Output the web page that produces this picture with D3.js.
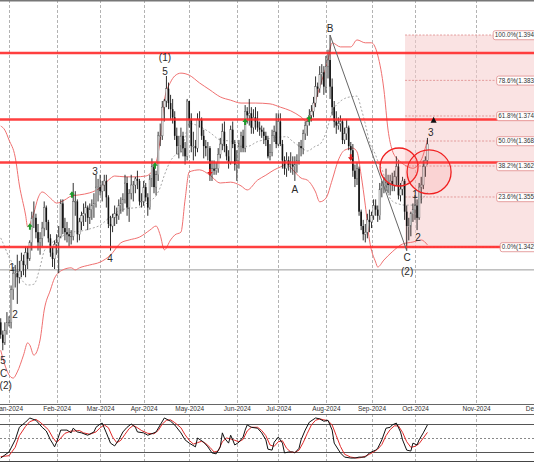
<!DOCTYPE html>
<html><head><meta charset="utf-8">
<script src="https://cdn.jsdelivr.net/npm/d3@7"></script>
<style>body{margin:0;background:#fff}svg{display:block;font-family:"Liberation Sans",Arial,sans-serif}</style>
</head><body>
<svg id="c" width="534" height="462"></svg>
<script>
// ---------- DATA ----------
const firstBar = -4;          // bar index of first candle (Dec 26 2023); 0 = Jan 1 2024
const firstOpen = 1.3245;
const closes = [
 1.3215,1.3195,1.3225,1.3245,
 1.3245,1.3325,1.3365,1.3365,1.3355,1.3370,1.3395,1.3385,1.3415,1.3400,1.3440,1.3500,1.3500,1.3465,1.3440,1.3450,1.3475,1.3525,1.3490,1.3450,1.3415,1.3400,1.3435,
 1.3440,1.3455,1.3535,1.3475,1.3465,1.3460,1.3455,1.3455,1.3540,1.3540,1.3460,1.3490,1.3505,1.3510,1.3525,1.3500,1.3520,1.3530,1.3535,1.3575,1.3575,
 1.3565,1.3580,1.3590,1.3550,1.3485,1.3480,1.3500,1.3510,1.3505,1.3530,1.3535,1.3545,1.3585,1.3525,1.3560,1.3580,1.3580,1.3595,1.3590,1.3540,1.3540,
 1.3575,1.3550,1.3525,1.3595,1.3625,1.3575,1.3605,1.3700,1.3700,1.3770,1.3785,1.3815,1.3780,1.3765,1.3745,1.3700,1.3675,1.3675,1.3700,1.3670,1.3650,1.3785,
 1.3740,1.3675,1.3675,1.3670,1.3740,1.3740,1.3700,1.3675,1.3670,1.3670,1.3605,1.3620,1.3615,1.3620,1.3655,1.3680,1.3710,1.3675,1.3650,1.3635,1.3715,1.3680,1.3630,
 1.3640,1.3675,1.3700,1.3670,1.3760,1.3750,1.3755,1.3720,1.3745,1.3735,1.3720,1.3715,1.3710,1.3700,1.3690,1.3650,1.3660,1.3700,1.3710,1.3680,
 1.3735,1.3680,1.3640,1.3620,1.3640,1.3630,1.3630,1.3625,1.3630,1.3640,1.3675,1.3670,1.3705,1.3725,1.3735,1.3750,1.3760,1.3780,1.3820,1.3815,1.3850,1.3855,1.3820,
 1.3870,1.3885,1.3820,1.3770,1.3735,1.3725,1.3730,1.3735,1.3690,1.3705,1.3720,1.3675,1.3665,1.3615,1.3595,1.3620,1.3515,1.3480,1.3460,1.3465,1.3495,1.3490,
 1.3505,1.3530,1.3520,1.3505,1.3570,1.3580,1.3580,1.3585,1.3580,1.3590,1.3580,1.3600,1.3625,1.3555,1.3570,1.3590,1.3515,1.3480,1.3480,1.3510,1.3520,
 1.3530,1.3500,1.3575,1.3580,1.3625,1.3640,1.3680
];
const highs = [
 1.3255,1.3225,1.3245,1.3270,
 1.3260,1.3335,1.3380,1.3385,1.3410,1.3395,1.3415,1.3410,1.3430,1.3430,1.3445,1.3515,1.3540,1.3510,1.3485,1.3465,1.3490,1.3540,1.3530,1.3495,1.3460,1.3430,1.3445,
 1.3460,1.3480,1.3545,1.3545,1.3500,1.3490,1.3475,1.3470,1.3585,1.3565,1.3545,1.3500,1.3515,1.3535,1.3540,1.3530,1.3535,1.3545,1.3560,1.3605,1.3595,
 1.3605,1.3590,1.3605,1.3605,1.3555,1.3505,1.3510,1.3530,1.3525,1.3545,1.3550,1.3560,1.3605,1.3600,1.3570,1.3605,1.3590,1.3600,1.3615,1.3595,1.3560,
 1.3590,1.3585,1.3560,1.3605,1.3645,1.3630,1.3615,1.3710,1.3730,1.3785,1.3790,1.3846,1.3830,1.3800,1.3790,1.3760,1.3720,1.3700,1.3720,1.3710,1.3685,1.3790,
 1.3785,1.3755,1.3710,1.3690,1.3755,1.3760,1.3745,1.3715,1.3690,1.3685,1.3675,1.3640,1.3640,1.3635,1.3670,1.3695,1.3730,1.3735,1.3680,1.3665,1.3725,1.3735,1.3690,
 1.3665,1.3690,1.3710,1.3715,1.3775,1.3770,1.3790,1.3770,1.3765,1.3770,1.3760,1.3735,1.3725,1.3720,1.3710,1.3700,1.3680,1.3715,1.3725,1.3755,
 1.3755,1.3755,1.3690,1.3650,1.3660,1.3650,1.3660,1.3650,1.3650,1.3655,1.3685,1.3690,1.3715,1.3735,1.3745,1.3765,1.3775,1.3795,1.3845,1.3830,1.3870,1.3875,1.3870,
 1.3895,1.3910,1.3946,1.3840,1.3785,1.3760,1.3745,1.3750,1.3740,1.3720,1.3740,1.3725,1.3685,1.3680,1.3630,1.3635,1.3625,1.3520,1.3495,1.3485,1.3510,1.3520,
 1.3515,1.3545,1.3545,1.3530,1.3585,1.3590,1.3600,1.3620,1.3605,1.3605,1.3610,1.3615,1.3650,1.3640,1.3585,1.3600,1.3595,1.3530,1.3500,1.3515,1.3535,
 1.3555,1.3545,1.3585,1.3600,1.3640,1.3650,1.3695
];
const lows = [
 1.3205,1.3177,1.3190,1.3215,
 1.3235,1.3230,1.3300,1.3330,1.3290,1.3340,1.3355,1.3360,1.3355,1.3375,1.3395,1.3420,1.3475,1.3450,1.3420,1.3410,1.3430,1.3455,1.3470,1.3440,1.3405,1.3380,1.3375,
 1.3410,1.3365,1.3450,1.3460,1.3445,1.3440,1.3430,1.3435,1.3445,1.3505,1.3440,1.3445,1.3470,1.3480,1.3490,1.3470,1.3485,1.3495,1.3500,1.3525,1.3540,
 1.3555,1.3540,1.3565,1.3525,1.3475,1.3420,1.3465,1.3480,1.3485,1.3495,1.3510,1.3515,1.3535,1.3505,1.3490,1.3545,1.3540,1.3560,1.3570,1.3530,1.3525,
 1.3530,1.3540,1.3505,1.3520,1.3575,1.3560,1.3555,1.3590,1.3675,1.3690,1.3735,1.3770,1.3765,1.3740,1.3730,1.3690,1.3655,1.3645,1.3660,1.3650,1.3630,1.3640,
 1.3720,1.3660,1.3640,1.3650,1.3660,1.3720,1.3690,1.3645,1.3650,1.3640,1.3590,1.3590,1.3605,1.3605,1.3610,1.3645,1.3665,1.3660,1.3640,1.3620,1.3630,1.3670,1.3615,
 1.3590,1.3620,1.3660,1.3660,1.3660,1.3730,1.3725,1.3705,1.3705,1.3715,1.3710,1.3700,1.3695,1.3680,1.3675,1.3645,1.3640,1.3650,1.3685,1.3670,
 1.3675,1.3675,1.3620,1.3605,1.3600,1.3615,1.3610,1.3605,1.3590,1.3610,1.3630,1.3650,1.3655,1.3690,1.3700,1.3725,1.3735,1.3745,1.3770,1.3795,1.3805,1.3825,1.3800,
 1.3805,1.3840,1.3790,1.3750,1.3720,1.3705,1.3715,1.3710,1.3680,1.3680,1.3690,1.3665,1.3640,1.3600,1.3575,1.3580,1.3505,1.3470,1.3445,1.3440,1.3450,1.3465,
 1.3475,1.3495,1.3505,1.3490,1.3495,1.3550,1.3560,1.3565,1.3560,1.3555,1.3565,1.3565,1.3580,1.3545,1.3540,1.3555,1.3495,1.3420,1.3445,1.3455,1.3490,
 1.3495,1.3470,1.3495,1.3535,1.3570,1.3600,1.3630
];
// Bollinger bands: [bar index, price]
const bbUpper = [[-4,1.3724],[-2,1.3714],[0,1.3690],[3,1.3648],[5,1.3580],[8,1.3507],[9,1.3478],[12,1.3512],[14,1.3548],[16,1.3563],[20,1.3548],[23,1.3536],[27,1.3544],[30,1.3553],[34,1.3556],[39,1.3561],[44,1.3573],[48,1.3592],[51,1.3602],[56,1.3600],[61,1.3600],[66,1.3602],[70,1.3621],[73,1.3690],[75,1.3787],[78,1.3831],[80,1.3846],[83,1.3853],[87,1.3848],[92,1.3829],[97,1.3812],[102,1.3795],[107,1.3787],[112,1.3780],[119,1.3780],[126,1.3778],[131,1.3770],[136,1.3761],[141,1.3746],[144,1.3734],[147,1.3770],[150,1.3819],[154,1.3885],[156,1.3927],[160,1.3917],[165,1.3917],[168,1.3934],[172,1.3927],[175,1.3927],[178,1.3897],[181,1.3812],[183,1.3714],[185,1.3665],[188,1.3641],[191,1.3629],[195,1.3621],[199,1.3641],[202,1.3690]];
const bbMiddle = [[-4,1.3451],[-2,1.3428],[0,1.3404],[2,1.3387],[5,1.3358],[9,1.3336],[12,1.3338],[15,1.3380],[17,1.3419],[20,1.3436],[23,1.3448],[27,1.3458],[30,1.3465],[34,1.3467],[39,1.3473],[44,1.3482],[49,1.3503],[54,1.3519],[58,1.3523],[63,1.3526],[68,1.3541],[71,1.3554],[73,1.3574],[75,1.3604],[78,1.3639],[80,1.3652],[83,1.3659],[85,1.3697],[87,1.3730],[92,1.3723],[97,1.3708],[102,1.3690],[107,1.3687],[112,1.3679],[115,1.3674],[120,1.3686],[124,1.3691],[128,1.3696],[131,1.3697],[134,1.3698],[137,1.3686],[141,1.3672],[144,1.3663],[148,1.3675],[150,1.3679],[153,1.3707],[156,1.3759],[159,1.3780],[162,1.3791],[166,1.3796],[168,1.3797],[170,1.3767],[172,1.3729],[174,1.3686],[177,1.3653],[178,1.3639],[181,1.3604],[183,1.3559],[185,1.3541],[188,1.3534],[191,1.3531],[195,1.3531],[199,1.3544],[202,1.3562]];
const bbLower = [[-4,1.3177],[-2,1.3141],[0,1.3117],[2,1.3109],[4,1.3124],[7,1.3165],[9,1.3195],[10,1.3190],[12,1.3165],[15,1.3202],[17,1.3275],[20,1.3324],[22,1.3353],[26,1.3373],[30,1.3378],[32,1.3373],[34,1.3378],[39,1.3385],[44,1.3392],[49,1.3409],[54,1.3439],[58,1.3446],[63,1.3453],[68,1.3470],[71,1.3480],[73,1.3458],[75,1.3422],[78,1.3446],[80,1.3458],[83,1.3465],[85,1.3544],[87,1.3612],[92,1.3617],[97,1.3604],[102,1.3585],[107,1.3587],[112,1.3578],[115,1.3568],[120,1.3592],[124,1.3604],[128,1.3617],[131,1.3624],[134,1.3631],[137,1.3617],[141,1.3597],[144,1.3592],[148,1.3563],[150,1.3539],[153,1.3548],[156,1.3592],[159,1.3641],[162,1.3665],[166,1.3670],[168,1.3661],[170,1.3604],[172,1.3531],[174,1.3446],[177,1.3392],[178,1.3380],[181,1.3397],[185,1.3417],[190,1.3436],[195,1.3441],[199,1.3446],[202,1.3434]];
// Stochastic oscillator: [bar index, value]
const stochK = [[-4,7],[0,20],[3,46],[5,73],[8,84],[10,93],[13,88],[15,78],[16,73],[18,65],[20,46],[21,39],[22,31],[23,41],[25,67],[28,67],[30,61],[31,71],[33,63],[35,61],[38,56],[41,63],[42,73],[44,80],[45,82],[47,61],[49,39],[51,33],[53,46],[55,63],[57,73],[59,80],[61,73],[62,63],[65,61],[67,56],[70,61],[71,63],[73,78],[75,93],[78,86],[80,78],[83,61],[85,46],[87,39],[90,31],[91,50],[94,41],[96,31],[98,18],[100,16],[102,31],[103,61],[104,50],[106,39],[107,56],[108,46],[109,35],[111,41],[113,52],[114,67],[115,78],[117,73],[120,71],[122,61],[124,46],[125,26],[127,24],[128,41],[130,52],[132,39],[133,18],[135,20],[137,20],[138,18],[140,28],[141,46],[143,67],[145,84],[148,93],[150,91],[152,86],[154,88],[156,67],[157,39],[160,18],[162,9],[165,7],[167,7],[169,9],[172,9],[174,18],[177,24],[178,28],[180,46],[182,71],[184,73],[185,78],[187,82],[189,63],[190,46],[192,24],[194,22],[195,39],[197,35],[198,46],[200,61],[202,78]];
const stochD = [[-4,10],[0,12],[3,30],[5,55],[8,75],[10,85],[13,90],[15,84],[17,76],[19,68],[21,52],[23,40],[25,50],[27,60],[30,65],[32,65],[34,66],[36,61],[39,58],[42,63],[44,72],[46,78],[48,72],[50,52],[52,40],[54,45],[56,58],[58,70],[60,77],[62,72],[64,66],[67,60],[70,59],[72,66],[74,80],[76,88],[78,89],[80,83],[83,72],[85,57],[87,45],[89,37],[91,40],[93,43],[95,38],[97,30],[99,20],[101,22],[103,42],[105,50],[107,48],[109,45],[111,42],[113,47],[115,65],[117,73],[120,73],[122,66],[124,55],[126,35],[128,32],[130,42],[132,44],[134,28],[136,20],[138,19],[140,24],[142,40],[144,60],[146,78],[148,88],[150,91],[152,89],[154,87],[156,78],[158,55],[160,32],[162,15],[165,9],[168,7],[170,8],[172,11],[174,15],[176,20],[178,26],[180,36],[182,55],[184,68],[186,76],[188,76],[190,62],[192,42],[194,30],[196,32],[198,38],[200,50],[202,62]];
const stochLevels = [80, 50, 20];
// Time axis
const monthLabels = ["Jan-2024","Feb-2024","Mar-2024","Apr-2024","May-2024","Jun-2024","Jul-2024","Aug-2024","Sep-2024","Oct-2024","Nov-2024","Dec-2024"];
const monthBars = [0,23,44,65,87,110,130,153,175,196,225.5,256];
// Horizontal support / resistance lines
const redLevels = [1.3902, 1.3740, 1.3635, 1.3429];
const grayLevel = 1.3373;
// Fibonacci retracement
const fibLow = 1.34288, fibHigh = 1.39460, fibStartBar = 191.2;
const fibRatios = [1.0, 0.786, 0.618, 0.5, 0.382, 0.236, 0.0];
// Wave labels: [bar, price, text]
const waveLabels = [[75.3,1.3890,"(1)"],[75.3,1.3858,"5"],[155,1.3961,"B"],[138,1.3568,"A"],[41.5,1.3614,"3"],[48.8,1.3400,"4"],[1.5,1.3378,"1"],[2.9,1.3265,"2"],[-2.9,1.3153,"5"],[-2.6,1.3121,"C"],[-1.6,1.3092,"(2)"],[192.2,1.3402,"C"],[192.2,1.3370,"(2)"],[196,1.3556,"1"],[197.5,1.3451,"2"],[203.6,1.3707,"3"]];
const upSignals = [[10.1,1.3478],[30.4,1.3556],[70.5,1.3627],[114,1.3734],[144.9,1.3741]];
const downSignals = [[97,1.3612],[165,1.3648]];
const waveLine = [[155,1.3946],[192,1.3420]];   // B -> C
const circles = [[188.3,1.3624,19],[202.8,1.3612,22]];
const targetArrow = [205,1.3738];

// ---------- SCALES ----------
const W = 534, mainBottom = 404, stTop = 414, stBottom = 461;
const x = d3.scaleLinear().domain([0,196]).range([9,415]);
const y = d3.scaleLinear().domain([1.30458,1.40314]).range([mainBottom,0]);
const ys = d3.scaleLinear().domain([0,100]).range([461.3,414.7]);
const svg = d3.select("#c");

svg.append("defs").append("clipPath").attr("id","mainClip").append("rect").attr("x",0).attr("y",0).attr("width",W).attr("height",mainBottom);
svg.select("defs").append("clipPath").attr("id","stClip").append("rect").attr("x",0).attr("y",stTop).attr("width",W).attr("height",stBottom-stTop);

// grid
const grid = svg.append("g");
monthBars.forEach(b=>{
  const gx = Math.round(x(b))+0.5;
  grid.append("line").attr("x1",gx).attr("x2",gx).attr("y1",0).attr("y2",mainBottom).attr("stroke","#a0a0a0").attr("stroke-dasharray","3,2").attr("stroke-width",0.8);
  grid.append("line").attr("x1",gx).attr("x2",gx).attr("y1",stTop).attr("y2",stBottom).attr("stroke","#a0a0a0").attr("stroke-dasharray","3,2").attr("stroke-width",0.8);
});

const main = svg.append("g").attr("clip-path","url(#mainClip)");

// fib box
const fy = r => y(fibLow + (fibHigh-fibLow)*r);
main.append("rect").attr("x",x(fibStartBar)).attr("y",fy(1)).attr("width",W-x(fibStartBar)).attr("height",fy(0)-fy(1))
  .attr("fill","#f5cccc").attr("fill-opacity",0.55);
fibRatios.forEach(r=>{
  main.append("line").attr("x1",x(fibStartBar)).attr("x2",W).attr("y1",fy(r)).attr("y2",fy(r))
   .attr("stroke","#dd8a8a").attr("stroke-dasharray","2,1.5").attr("stroke-width",0.8);
});

// gray level
main.append("line").attr("x1",0).attr("x2",W).attr("y1",y(grayLevel)).attr("y2",y(grayLevel)).attr("stroke","#9a9a9a").attr("stroke-width",1);

// bollinger
const bl = d3.line().x(d=>x(d[0])).y(d=>y(d[1])).curve(d3.curveMonotoneX);
main.append("path").attr("d",bl(bbMiddle)).attr("fill","none").attr("stroke","#a8a8a8").attr("stroke-dasharray","2,2").attr("stroke-width",1);
main.append("path").attr("d",bl(bbUpper)).attr("fill","none").attr("stroke","#f07070").attr("stroke-width",1);
main.append("path").attr("d",bl(bbLower)).attr("fill","none").attr("stroke","#f07070").attr("stroke-width",1);

// candles
const bars = closes.map((c,k)=>({i:firstBar+k, o:k===0?firstOpen:closes[k-1], h:highs[k], l:lows[k], c}));
const cg = main.append("g");
cg.selectAll("line").data(bars).join("line")
  .attr("x1",d=>x(d.i)).attr("x2",d=>x(d.i)).attr("y1",d=>y(d.h)).attr("y2",d=>y(d.l))
  .attr("stroke","#1a1a1a").attr("stroke-width",0.9);
cg.selectAll("rect").data(bars).join("rect")
  .attr("x",d=>x(d.i)-0.8).attr("width",1.6)
  .attr("y",d=>y(Math.max(d.o,d.c))).attr("height",d=>Math.max(0.6,Math.abs(y(d.o)-y(d.c))))
  .attr("fill",d=>d.c>=d.o?"#e8e8e8":"#111").attr("stroke",d=>d.c>=d.o?"#555":"none").attr("stroke-width",0.4);

// red levels
redLevels.forEach(p=>{
  main.append("line").attr("x1",0).attr("x2",W).attr("y1",y(p)).attr("y2",y(p)).attr("stroke","#ff2a2a").attr("stroke-width",2.4).attr("stroke-opacity",0.9);
});

// circles
circles.forEach(c=>{
  main.append("circle").attr("cx",x(c[0])).attr("cy",y(c[1])).attr("r",c[2])
   .attr("fill","#ff6060").attr("fill-opacity",0.12).attr("stroke","#f02020").attr("stroke-width",1.3);
});

// B-C line
main.append("line").attr("x1",x(waveLine[0][0])).attr("y1",y(waveLine[0][1])).attr("x2",x(waveLine[1][0])).attr("y2",y(waveLine[1][1]))
  .attr("stroke","#666").attr("stroke-width",1);

// signals
upSignals.forEach(s=>{
  const sx=x(s[0]), sy=y(s[1]);
  main.append("path").attr("d",`M${sx},${sy-3.5}L${sx-2.8},${sy}L${sx-1},${sy}L${sx-1},${sy+3}L${sx+1},${sy+3}L${sx+1},${sy}L${sx+2.8},${sy}Z`).attr("fill","#1e9a2a");
});
downSignals.forEach(s=>{
  const sx=x(s[0]), sy=y(s[1]);
  main.append("path").attr("d",`M${sx},${sy+3.5}L${sx-2.8},${sy}L${sx-1},${sy}L${sx-1},${sy-3}L${sx+1},${sy-3}L${sx+1},${sy}L${sx+2.8},${sy}Z`).attr("fill","#dd1c1c");
});

// target arrow near "3"
{
  const ax=x(targetArrow[0]), ay=y(targetArrow[1]);
  main.append("path").attr("d",`M${ax},${ay-3.5}L${ax-3},${ay+2.5}L${ax+3},${ay+2.5}Z`).attr("fill","#111");
}

// wave labels
main.selectAll("text.w").data(waveLabels).join("text").attr("class","w")
  .attr("x",d=>x(d[0])).attr("y",d=>y(d[1])).attr("dy","0.35em").attr("text-anchor","middle")
  .attr("font-size",10).attr("fill","#2a2a2a").text(d=>d[2]);

// fib labels
fibRatios.forEach(r=>{
  const lv = fibLow + (fibHigh-fibLow)*r;
  const g = main.append("g");
  const t = g.append("text").attr("x",543).attr("y",fy(r)).attr("dy","0.35em").attr("text-anchor","end")
     .attr("font-size",6.3).attr("fill","#333").text((r*100).toFixed(1)+"%("+lv.toFixed(5)+")");
  const bb = t.node().getBBox();
  g.insert("rect","text").attr("x",bb.x-1.5).attr("y",bb.y-0.5).attr("width",bb.width+3).attr("height",bb.height+1)
    .attr("rx",2).attr("fill","#fff").attr("stroke","#e08a8a").attr("stroke-width",0.8);
});

// borders
svg.append("line").attr("x1",0).attr("x2",W).attr("y1",0.75).attr("y2",0.75).attr("stroke","#777").attr("stroke-width",1.5);
svg.append("line").attr("x1",0).attr("x2",W).attr("y1",mainBottom+0.5).attr("y2",mainBottom+0.5).attr("stroke","#666").attr("stroke-width",1);

// time axis labels
const ax = svg.append("g").attr("transform",`translate(0,${mainBottom})`)
  .call(d3.axisBottom(x).tickValues(monthBars).tickFormat((d,k)=>monthLabels[k]).tickSize(0).tickPadding(2.5));
ax.select(".domain").remove();
ax.selectAll("text").attr("font-size",6.5).attr("fill","#333").attr("font-family","Liberation Sans, Arial, sans-serif");

// stochastic panel
const st = svg.append("g");
st.append("line").attr("x1",0).attr("x2",W).attr("y1",stTop+0.5).attr("y2",stTop+0.5).attr("stroke","#666");
st.append("line").attr("x1",0).attr("x2",W).attr("y1",stBottom+0.5).attr("y2",stBottom+0.5).attr("stroke","#444");
stochLevels.forEach(v=>{
  st.append("line").attr("x1",0).attr("x2",W).attr("y1",Math.round(ys(v))+0.5).attr("y2",Math.round(ys(v))+0.5)
    .attr("stroke",v===50?"#888":"#555").attr("stroke-width",1).attr("stroke-dasharray",v===50?"2,2":null);
});
const sl = d3.line().x(d=>x(d[0])).y(d=>ys(d[1])).curve(d3.curveLinear);
const stc = st.append("g").attr("clip-path","url(#stClip)");
stc.append("path").attr("d",sl(stochD)).attr("fill","none").attr("stroke","#e02a2a").attr("stroke-width",1);
stc.append("path").attr("d",sl(stochK)).attr("fill","none").attr("stroke","#111").attr("stroke-width",1);
</script>
</body></html>
